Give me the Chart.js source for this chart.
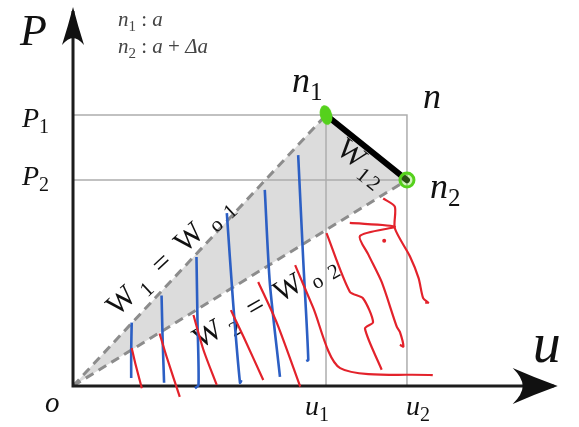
<!DOCTYPE html>
<html>
<head>
<meta charset="utf-8">
<script src="https://cdn.jsdelivr.net/npm/chart.js@4.4.0/dist/chart.umd.min.js"></script>
<style>
html, body { margin: 0; padding: 0; background: #fff; }
canvas { display: block; }
</style>
</head>
<body>
<canvas id="myChart" width="579" height="427"></canvas>
<script>
// diagram values: u along the x axis, P along the y axis
var uMarks = [5.0, 6.6];      // u1, u2
var pMarks = [5.0, 3.8];      // P1, P2
var axisEnds = [9.5, 6.92];   // where the u and P axis lines stop

// hand drawn strokes over the figure
var blueStrokes = [
  [[1.16, 1.17], [1.15, 0.66], [1.15, 0.15]],
  [[1.75, 1.67], [1.77, 0.90], [1.80, 0.06]],
  [[2.44, 2.38], [2.46, 1.20], [2.48, 0.02], [2.41, -0.04]],
  [[3.04, 3.19], [3.16, 1.59], [3.30, 0.06], [3.33, 0.11]],
  [[3.79, 3.62], [3.89, 1.90], [4.09, 0.17]],
  [[4.45, 4.26], [4.55, 2.32], [4.65, 0.48], [4.61, 0.46]]
];
var redStrokes = [
  [[1.16, 0.70], [1.23, 0.42], [1.36, -0.04]],
  [[1.71, 0.97], [1.85, 0.54], [2.11, -0.20]],
  [[2.38, 1.31], [2.58, 0.66], [2.84, 0.02]],
  [[3.12, 1.40], [3.37, 0.91], [3.76, 0.11]],
  [[3.66, 1.92], [4.03, 1.16], [4.49, -0.01]],
  [[4.39, 2.23], [4.74, 1.46], [5.28, 0.33], [7.11, 0.20]],
  [[5.01, 2.82], [5.47, 1.74], [5.73, 1.62], [5.93, 1.18], [5.77, 1.06], [6.10, 0.30]],
  [[5.47, 3.01], [6.36, 2.94], [5.67, 2.77], [5.84, 2.42], [6.10, 1.92], [6.40, 1.09], [6.46, 1.00], [6.53, 0.73], [6.46, 0.76]],
  [[6.13, 3.46], [6.36, 3.31], [6.36, 2.91], [6.66, 2.39], [6.83, 1.99], [6.92, 1.62], [7.02, 1.54], [6.96, 1.54]]
];
var redDot = [[6.15, 2.68]];

var u1 = uMarks[0], u2 = uMarks[1], P1 = pMarks[0], P2 = pMarks[1];

function pts(arr) {
  return arr.map(function (p) { return { x: p[0], y: p[1] }; });
}
function stroke(arr, color, width, extra) {
  return Object.assign({
    data: pts(arr), borderColor: color, borderWidth: width,
    pointRadius: 0, fill: false, tension: 0
  }, extra || {});
}

// green blob at n1
var blob = document.createElement('canvas');
blob.width = 14; blob.height = 22;
var bctx = blob.getContext('2d');
bctx.fillStyle = '#55d11c';
bctx.beginPath();
bctx.ellipse(7, 11, 6, 10, -0.25, 0, Math.PI * 2);
bctx.fill();

var datasets = [];
redStrokes.forEach(function (s) { datasets.push(stroke(s, '#e3222b', 2.2, { tension: 0.25 })); });
blueStrokes.forEach(function (s) { datasets.push(stroke(s, '#2c5fc4', 2.6, { tension: 0.25 })); });
datasets.push({ data: pts(redDot), showLine: false, pointRadius: 2, backgroundColor: '#e3222b', borderWidth: 0 });
datasets.push({ data: pts([[u1, P1]]), showLine: false, pointStyle: blob, pointRadius: 8 });
datasets.push({ data: pts([[u2, P2]]), showLine: false, pointRadius: 7, borderWidth: 3,
  borderColor: '#55d11c', backgroundColor: 'rgba(120,220,60,0.35)' });
datasets.push(stroke([[u1, P1], [u2, P2]], '#000', 6, { borderCapStyle: 'round' }));
datasets.push(stroke([[axisEnds[0], 0], [0, 0], [0, axisEnds[1]]], '#1c1c1c', 3,
  { label: 'axes', borderJoinStyle: 'miter' }));
datasets.push(stroke([[0, 0], [u1, P1]], '#8c8c8c', 3, { borderDash: [9, 6] }));
datasets.push(stroke([[0, 0], [u2, P2]], '#8c8c8c', 3, { borderDash: [9, 6] }));
datasets.push(stroke([[0, P1], [u2, P1], [u2, 0]], '#adadad', 1.5));
datasets.push(stroke([[0, P2], [u2, P2]], '#adadad', 1.5));
datasets.push(stroke([[u1, 0], [u1, P1]], '#adadad', 1.5));
datasets.push({ data: pts([[0, 0], [u1, P1], [u2, P2], [0, 0]]), fill: 'shape',
  backgroundColor: '#dcdcdc', borderColor: 'rgba(0,0,0,0)', borderWidth: 0, pointRadius: 0 });

// text pieces
function I(t, gap) { return { t: t, i: true, gap: gap || 0 }; }
function R(t, gap) { return { t: t, gap: gap || 0 }; }
function S(t, gap) { return { t: t, sub: true, gap: gap || 0 }; }

var labels = [
  { at: [0, axisEnds[1]], dx: -53, dy: 34, size: 44, parts: [I('P')] },
  { at: [axisEnds[0], 0], dx: -21, dy: -24, size: 56, parts: [I('u')] },
  { at: [0, 0], dx: -28, dy: 26, size: 29, parts: [I('o')] },
  { at: [u1, 0], dx: -21, dy: 29, size: 28, parts: [I('u'), S('1')] },
  { at: [u2, 0], dx: -1, dy: 29, size: 28, parts: [I('u'), S('2')] },
  { at: [0, P1], dx: -51, dy: 12, size: 28, parts: [I('P'), S('1')] },
  { at: [0, P2], dx: -51, dy: 5, size: 28, parts: [I('P'), S('2')] },
  { at: [u1, P1], dx: -34, dy: -23, size: 36, parts: [I('n'), S('1')] },
  { at: [u2, P1], dx: 16, dy: -7, size: 36, parts: [I('n')] },
  { at: [u2, P2], dx: 23, dy: 18, size: 36, parts: [I('n'), S('2')] },
  { at: [0, axisEnds[1]], dx: 45, dy: 15, size: 21, color: '#444',
    parts: [I('n'), S('1'), R(' : '), I('a')] },
  { at: [0, axisEnds[1]], dx: 45, dy: 42, size: 21, color: '#444',
    parts: [I('n'), S('2'), R(' : '), I('a'), R(' + '), I('Δa')] },
  { at: [2.03, 2.28], center: true, rot: -43, size: 30,
    parts: [R('W', 7), S('1', 15), R('=', 15), R('W', 9), S('o', 9), S('1')] },
  { at: [3.88, 1.42], center: true, rot: -30, size: 30,
    parts: [R('W', 7), S('2', 15), R('=', 15), R('W', 9), S('o', 9), S('2')] },
  { at: [5.60, 4.00], center: true, rot: 39, size: 30,
    parts: [R('W', 3), S('1', 3), S('2')] }
];

function layout(ctx, parts, size) {
  var x = 0, items = [];
  parts.forEach(function (p) {
    var s = p.sub ? Math.round(size * 0.7) : size;
    var font = (p.i ? 'italic ' : '') + s + 'px "Liberation Serif", "DejaVu Serif", serif';
    ctx.font = font;
    var w = ctx.measureText(p.t).width;
    items.push({ t: p.t, font: font, x: x, y: p.sub ? size * 0.22 : 0 });
    x += w + p.gap;
  });
  return { items: items, width: x };
}

function arrowHead(ctx, x, y, angle, len, half, notch) {
  ctx.save();
  ctx.translate(x, y);
  ctx.rotate(angle);
  ctx.beginPath();
  ctx.moveTo(0, 0);
  ctx.quadraticCurveTo(-len * 0.5, -half * 0.45, -len, -half);
  ctx.quadraticCurveTo(-len + notch, -half * 0.45, -len + notch, 0);
  ctx.quadraticCurveTo(-len + notch, half * 0.45, -len, half);
  ctx.quadraticCurveTo(-len * 0.5, half * 0.45, 0, 0);
  ctx.closePath();
  ctx.fillStyle = '#111';
  ctx.fill();
  ctx.restore();
}

var figureText = {
  id: 'figureText',
  afterDatasetDraw: function (chart, args) {
    if (args.meta.label !== 'axes') return;
    var ctx = chart.ctx, xs = chart.scales.x, ys = chart.scales.y;
    // arrow heads at the axis ends
    arrowHead(ctx, xs.getPixelForValue(axisEnds[0]) + 4, ys.getPixelForValue(0), 0, 45, 18, 10);
    arrowHead(ctx, xs.getPixelForValue(0), ys.getPixelForValue(axisEnds[1]) - 4, -Math.PI / 2, 38, 11, 7);

    labels.forEach(function (lb) {
      var px = xs.getPixelForValue(lb.at[0]) + (lb.dx || 0);
      var py = ys.getPixelForValue(lb.at[1]) + (lb.dy || 0);
      var lay = layout(ctx, lb.parts, lb.size);
      ctx.save();
      ctx.translate(px, py);
      if (lb.rot) ctx.rotate(lb.rot * Math.PI / 180);
      var x0 = lb.center ? -lay.width / 2 : 0;
      ctx.fillStyle = lb.color || '#111';
      ctx.textBaseline = 'alphabetic';
      ctx.textAlign = 'left';
      lay.items.forEach(function (it) {
        ctx.font = it.font;
        ctx.fillText(it.t, x0 + it.x, it.y);
      });
      ctx.restore();
    });
  }
};

var ctx = document.getElementById('myChart');
var myChart = new Chart(ctx, {
  type: 'line',
  data: { datasets: datasets },
  options: {
    responsive: false,
    animation: false,
    layout: { padding: 0, autoPadding: false },
    plugins: {
      legend: { display: false },
      tooltip: { enabled: false }
    },
    scales: {
      x: { type: 'linear', min: -1.443, max: 10, display: false },
      y: { type: 'linear', min: -0.756, max: 7.122, display: false }
    }
  },
  plugins: [figureText]
});
</script>
</body>
</html>
